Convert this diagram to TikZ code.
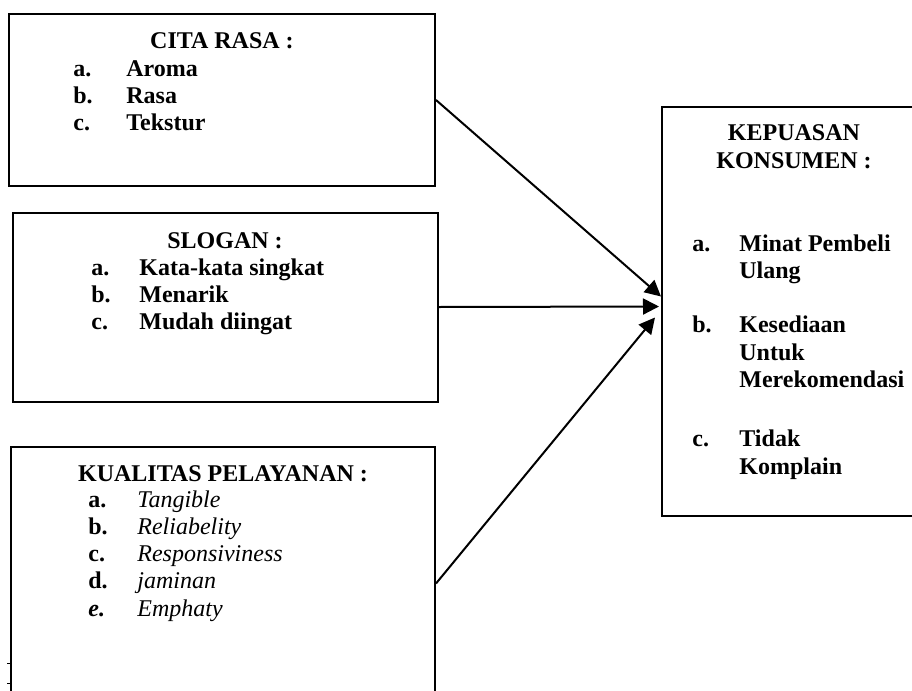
\documentclass[tikz,border=0pt]{standalone}
\usepackage{fontspec}
\setmainfont{Liberation Serif}
\usetikzlibrary{arrows.meta,calc}

\newcommand{\plain}[1]{\textit{\mdseries #1}}

\begin{document}
\begin{tikzpicture}[x=0.5pt,y=-0.5pt,
        txt/.style={font=\fontsize{12}{13.65}\selectfont\bfseries, inner sep=0},
        box/.style={draw, line width=1pt, inner sep=0},
        head/.style={txt, anchor=base, align=center},
        items/.style={txt, anchor=base west},
        link/.style={-{Triangle[length=8pt,width=8pt]}, line width=1pt}]
                \path[use as bounding box, clip] (0,0) rectangle (912,691);
                % boxes
                \node[box, minimum width=213pt, minimum height=86pt] (cita) at (222,100) {};
                \node[box, minimum width=212.5pt, minimum height=94.5pt] (slogan) at (225.5,307) {};
                \node[box, minimum width=212pt, minimum height=136.5pt] (kualitas) at (223,583.5) {};
                \node[box, minimum width=132pt, minimum height=204.5pt] (kepuasan) at (794,311.5) {};
                % texts
                \node[head] (cita-title) at (222,48) {CITA RASA :};
                \node[items] (cita-list) at (73,76) {\begin{tabular}[t]{@{}p{26.5pt}@{}l@{}}
                    a. & Aroma\\ b. & Rasa\\ c. & Tekstur
                \end{tabular}};
                \node[head] (slogan-title) at (225,248) {SLOGAN :};
                \node[items] (slogan-list) at (91,275) {\begin{tabular}[t]{@{}p{24pt}@{}l@{}}
                    a. & Kata-kata singkat\\ b. & Menarik\\ c. & Mudah diingat
                \end{tabular}};
                \node[head] (kualitas-title) at (223,481) {KUALITAS PELAYANAN :};
                \node[items] (kualitas-list) at (88,507) {\begin{tabular}[t]{@{}p{24.5pt}@{}l@{}}
                    a. & \plain{Tangible}\\ b. & \plain{Reliabelity}\\ c. & \plain{Responsiviness}\\
                    d. & \plain{jaminan}\\ \textit{e.} & \plain{Emphaty}
                \end{tabular}};
                \node[head] (kepuasan-title) at (794,168) {KEPUASAN\\KONSUMEN :};
                \node[items] (kepuasan-list) at (692,251) {\begin{tabular}[t]{@{}p{23.5pt}@{}l@{}}
                    a. & Minat Pembeli\\ & Ulang\\[13.65pt]
                    b. & Kesediaan\\ & Untuk\\ & Merekomendasi\\[16pt]
                    c. & Tidak\\ & Komplain
                \end{tabular}};
                % arrows
                \draw[link] (cita.east) -- ($(kepuasan.west)+(0,-15)$);
                \draw[link] (slogan.east) -- ($(kepuasan.west)+(-2,-5)$);
                \draw[link] (kualitas.east) -- ($(kepuasan.west)+(-6,6)$);
                % ticks on the left edge
                \draw (7,663) -- (kualitas.west |- 0,663);
                \draw (7,683) -- (kualitas.west |- 0,683);
\end{tikzpicture}
\end{document}
